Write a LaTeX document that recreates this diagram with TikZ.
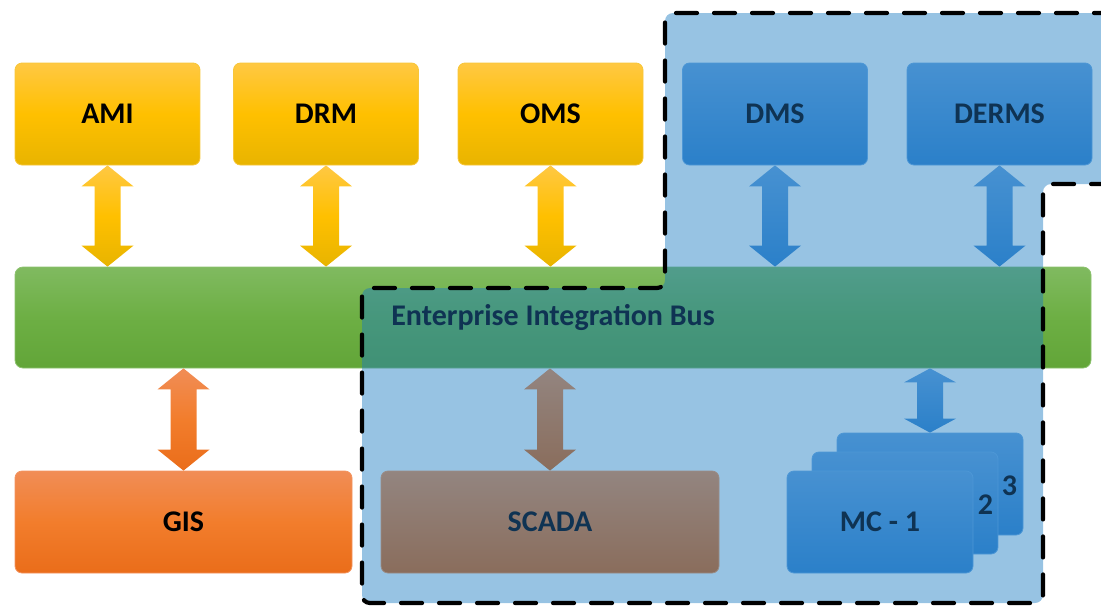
\documentclass[tikz,border=0pt]{standalone}
\usepackage{fontspec}
\setmainfont{Carlito}
\usetikzlibrary{calc}

% palette
\definecolor{ylT}{HTML}{FFC843}
\definecolor{ylM}{HTML}{FFC000}
\definecolor{ylB}{HTML}{E8B400}
\definecolor{ylE}{HTML}{F7C63A}
\definecolor{blT}{HTML}{4791D1}
\definecolor{blB}{HTML}{2B80C9}
\definecolor{blE}{HTML}{4D97D6}
\definecolor{grT}{HTML}{80BA60}
\definecolor{grM}{HTML}{6DAF44}
\definecolor{grB}{HTML}{62A538}
\definecolor{grE}{HTML}{8CC26E}
\definecolor{orT}{HTML}{F18D56}
\definecolor{orM}{HTML}{F27D2C}
\definecolor{orB}{HTML}{EA6D1A}
\definecolor{orE}{HTML}{F39460}
\definecolor{brT}{HTML}{938580}
\definecolor{brB}{HTML}{8A6D5C}
\definecolor{brE}{HTML}{9A8C86}
\definecolor{navy}{HTML}{0F3353}
\definecolor{zone}{RGB}{24,122,193}

% double-headed block arrow between two points on a vertical line
\newcommand\biarrow[4][21]{%
  \path[#2] let \p1=(#3), \p2=(#4) in
    (\x1,\y1) -- (\x1+26pt,\y1-#1pt) -- (\x1+13pt,\y1-#1pt)
    -- (\x1+13pt,\y2+#1pt) -- (\x1+26pt,\y2+#1pt) -- (\x1,\y2)
    -- (\x1-26pt,\y2+#1pt) -- (\x1-13pt,\y2+#1pt)
    -- (\x1-13pt,\y1-#1pt) -- (\x1-26pt,\y1-#1pt) -- cycle;}

\tikzset{
  box/.style={rectangle, rounded corners=7pt, minimum width=185pt,
    minimum height=102pt, inner sep=0pt, line width=0.8pt,
    font=\fontsize{30}{32}\selectfont\bfseries},
  yellowbox/.style={box, top color=ylT, bottom color=ylB, middle color=ylM,
    draw=ylE, text=black},
  bluebox/.style={box, top color=blT, bottom color=blB, draw=blE, text=navy},
  orangebox/.style={box, top color=orT, bottom color=orB, middle color=orM,
    draw=orE, text=black},
  brownbox/.style={box, top color=brT, bottom color=brB, draw=brE, text=navy},
  busbox/.style={rectangle, rounded corners=8pt, minimum width=1076pt,
    minimum height=101pt, inner sep=0pt, line width=0.8pt,
    top color=grT, bottom color=grB, middle color=grM, draw=grE},
  lbl/.style={font=\fontsize{30}{32}\selectfont\bfseries, text=navy, inner sep=0pt},
  yarrow/.style={top color=ylT, bottom color=ylB, middle color=ylM},
  barrow/.style={top color=blT, bottom color=blB},
  oarrow/.style={top color=orT, bottom color=orB, middle color=orM},
  rarrow/.style={top color=brT, bottom color=brB},
  zonefill/.style={fill=zone, fill opacity=0.45, rounded corners=8pt},
  zoneline/.style={draw=black, line width=4.2pt, dash pattern=on 21pt off 17pt,
    line cap=round, rounded corners=8pt},
}

\begin{document}
\begin{tikzpicture}[x=1pt, y=-1pt]
\useasboundingbox (0,0) rectangle (1101,606);

% integration bus
\node[busbox] (bus) at (553,317.5) {};

% shaded zone with its dashed border
\path[zonefill] (1115,13) -- (665,13) -- (665,288) -- (362,288) -- (362,603)
  -- (1043,603) -- (1043,184) -- (1115,184) -- cycle;
\draw[zoneline] (1115,13) -- (665,13) -- (665,288) -- (362,288) -- (362,603)
  -- (1043,603) -- (1043,184) -- (1115,184);

\node[lbl] (buslabel) at (bus.center) {Enterprise Integration Bus};

% top row of systems
\node[yellowbox] (ami) at (107.5,114) {AMI};
\node[yellowbox] (drm) at (326,114) {DRM};
\node[yellowbox] (oms) at (550.5,114) {OMS};
\node[bluebox] (dms) at (775,114) {DMS};
\node[bluebox] (derms) at (999.5,114) {DERMS};

% bottom row of systems
\node[orangebox, minimum width=337pt] (gis) at (183.5,522) {GIS};
\node[brownbox, minimum width=338pt] (scada) at (550,522) {SCADA};

% stacked controllers
\node[bluebox, minimum width=186pt] (mc3) at (930,484) {};
\node[lbl] (mc3l) at ($(mc3.east)+(-14,2)$) {3};
\node[bluebox, minimum width=186pt] (mc2) at (905,503) {};
\node[lbl] (mc2l) at ($(mc2.east)+(-13,2)$) {2};
\node[bluebox, minimum width=186pt] (mc1) at (880,522) {MC - 1};

% links to the bus
\biarrow{yarrow}{ami.south}{ami.south |- bus.north}
\biarrow{yarrow}{drm.south}{drm.south |- bus.north}
\biarrow{yarrow}{oms.south}{oms.south |- bus.north}
\biarrow{barrow}{dms.south}{dms.south |- bus.north}
\biarrow{barrow}{derms.south}{derms.south |- bus.north}
\biarrow{oarrow}{gis.north |- bus.south}{gis.north}
\biarrow{rarrow}{scada.north |- bus.south}{scada.north}
\biarrow[14]{barrow}{mc3.north |- bus.south}{mc3.north}
\end{tikzpicture}
\end{document}
